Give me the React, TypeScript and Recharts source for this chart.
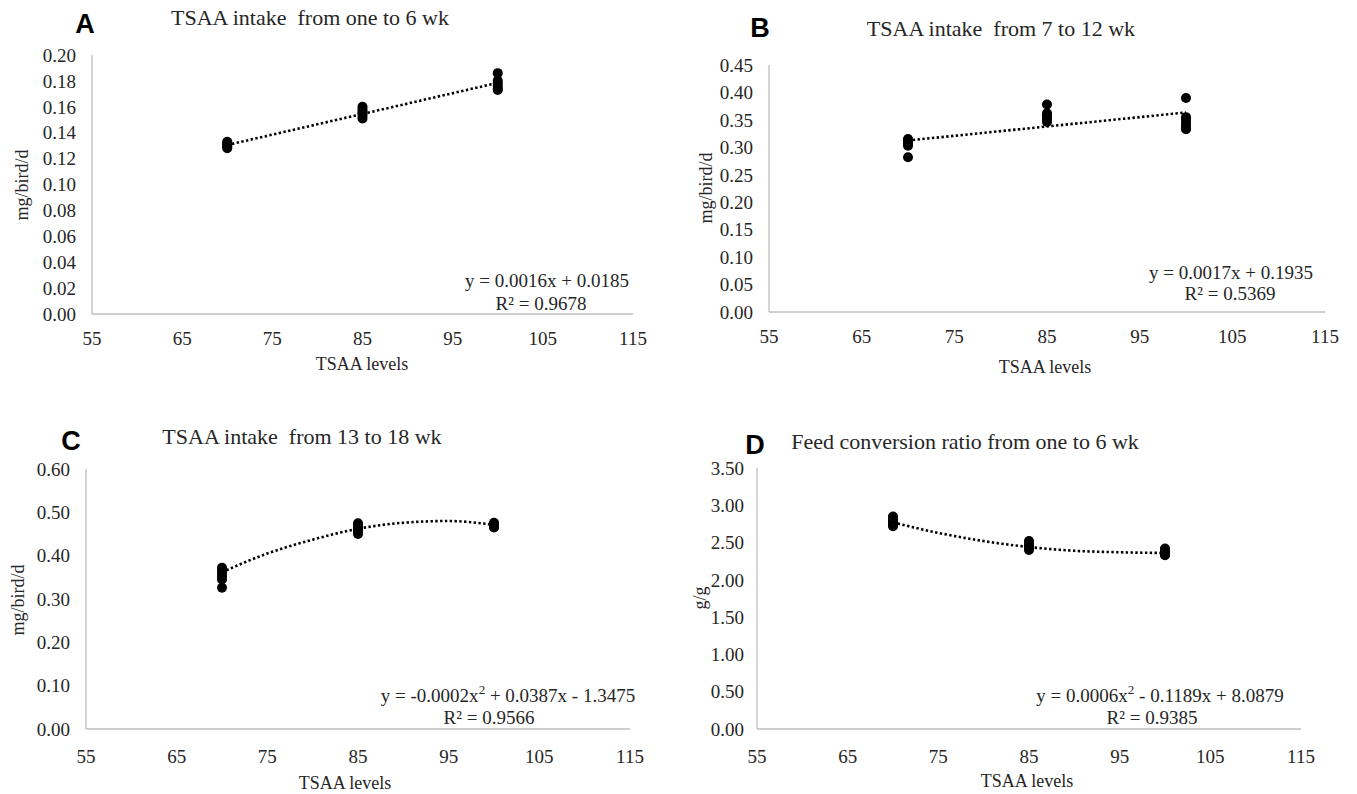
import type { CSSProperties, ReactNode } from 'react'
import { ComposedChart, Line, Scatter, XAxis, YAxis } from 'recharts'

// TSAA levels (% of requirement) and the six replicate values read per level
const levels = [70, 85, 100]
const xTicks = [55, 65, 75, 85, 95, 105, 115]

const intake1to6 = [
  [0.133, 0.132, 0.131, 0.13, 0.129, 0.128],
  [0.16, 0.158, 0.156, 0.155, 0.153, 0.151],
  [0.186, 0.18, 0.178, 0.176, 0.174, 0.173],
]
const intake7to12 = [
  [0.315, 0.312, 0.309, 0.306, 0.303, 0.282],
  [0.378, 0.362, 0.358, 0.354, 0.35, 0.346],
  [0.39, 0.355, 0.35, 0.344, 0.338, 0.333],
]
const intake13to18 = [
  [0.372, 0.365, 0.358, 0.352, 0.345, 0.326],
  [0.475, 0.47, 0.465, 0.46, 0.455, 0.45],
  [0.476, 0.473, 0.47, 0.468, 0.466, 0.465],
]
const fcr1to6 = [
  [2.85, 2.82, 2.79, 2.77, 2.74, 2.72],
  [2.52, 2.49, 2.46, 2.44, 2.42, 2.4],
  [2.42, 2.4, 2.38, 2.36, 2.34, 2.33],
]

// trendlines
const linearX = [70, 100]
const trendA = [0.1305, 0.1785]
const trendB = [0.3125, 0.3635]
const curveX = [70, 75, 80, 85, 90, 95, 100]
const trendC = [0.362, 0.405, 0.437, 0.462, 0.476, 0.48, 0.471]
const trendD = [2.77, 2.63, 2.52, 2.44, 2.39, 2.37, 2.36]

const ticksA = [0, 0.02, 0.04, 0.06, 0.08, 0.1, 0.12, 0.14, 0.16, 0.18, 0.2]
const ticksB = [0, 0.05, 0.1, 0.15, 0.2, 0.25, 0.3, 0.35, 0.4, 0.45]
const ticksC = [0, 0.1, 0.2, 0.3, 0.4, 0.5, 0.6]
const ticksD = [0, 0.5, 1, 1.5, 2, 2.5, 3, 3.5]

const SERIF = '"Liberation Serif", "Times New Roman", serif'
const SANS = '"Liberation Sans", Arial, sans-serif'
const TEXT = '#262626'

// tick text kept coming out sans, so force the font on every svg text
const css = `.chart-box svg text, .chart-box svg tspan { font-family: ${SERIF} !important; font-size: 19px !important; fill: ${TEXT}; }`

function toPoints(groups: number[][]) {
  return groups.flatMap((vals, i) => vals.map((y) => ({ x: levels[i], y })))
}

function toLine(xs: number[], ys: number[]) {
  return xs.map((x, i) => ({ x, y: ys[i] }))
}

const Marker = (p: any) => <circle cx={p.cx} cy={p.cy} r={5} fill="#000" />

function ScatterPanel({
  plot,
  yTicks,
  groups,
  trend,
  curved,
  xTickGap,
  yTickGap = 16,
}: {
  plot: { x0: number; x1: number; y0: number; y1: number }
  yTicks: number[]
  groups: number[][]
  trend: { x: number; y: number }[]
  curved: boolean
  xTickGap: number
  yTickGap?: number
}) {
  const yAxisW = 90
  const xAxisH = 60
  const box: CSSProperties = {
    position: 'absolute',
    left: plot.x0 - yAxisW,
    top: plot.y0 - 20,
    fontFamily: SERIF,
  }
  const tick = { fill: TEXT, fontSize: 19, fontFamily: SERIF }
  return (
    <div className="chart-box" style={box}>
      <ComposedChart
        width={plot.x1 - plot.x0 + yAxisW + 20}
        height={plot.y1 - plot.y0 + 20 + xAxisH}
        margin={{ top: 20, right: 20, left: 0, bottom: 0 }}
      >
        <XAxis
          type="number"
          dataKey="x"
          domain={[55, 115]}
          ticks={xTicks}
          interval={0}
          allowDataOverflow
          height={xAxisH}
          tickLine={false}
          tickSize={0}
          tickMargin={xTickGap}
          axisLine={{ stroke: '#bfbfbf', strokeWidth: 1.3 }}
          tick={tick}
        />
        <YAxis
          type="number"
          dataKey="y"
          domain={[yTicks[0], yTicks[yTicks.length - 1]]}
          ticks={yTicks}
          interval={0}
          width={yAxisW}
          tickLine={false}
          tickSize={0}
          tickMargin={yTickGap}
          axisLine={{ stroke: '#bfbfbf', strokeWidth: 1.3 }}
          tick={tick}
          tickFormatter={(v: number) => v.toFixed(2)}
        />
        <Line
          data={trend}
          dataKey="y"
          type={curved ? 'monotone' : 'linear'}
          stroke="#000"
          strokeWidth={2.6}
          strokeDasharray="2.4 2.4"
          dot={false}
          activeDot={false}
          isAnimationActive={false}
        />
        <Scatter
          data={toPoints(groups)}
          dataKey="y"
          fill="#000"
          shape={Marker}
          isAnimationActive={false}
        />
      </ComposedChart>
    </div>
  )
}

function Txt({
  x,
  y,
  size = 19,
  family = SERIF,
  bold = false,
  rotate = false,
  children,
}: {
  x: number
  y: number
  size?: number
  family?: string
  bold?: boolean
  rotate?: boolean
  children: ReactNode
}) {
  return (
    <div
      style={{
        position: 'absolute',
        left: x,
        top: y,
        transform: `translate(-50%, -50%)${rotate ? ' rotate(-90deg)' : ''}`,
        whiteSpace: 'pre',
        fontFamily: family,
        fontSize: size,
        fontWeight: bold ? 700 : 400,
        color: bold ? '#000' : TEXT,
        lineHeight: 1,
      }}
    >
      {children}
    </div>
  )
}

const sup: CSSProperties = { fontSize: 13, verticalAlign: 'super', lineHeight: 0 }

export default function App() {
  return (
    <div
      style={{
        position: 'absolute',
        left: 0,
        top: 0,
        width: 1357,
        height: 794,
        background: '#fff',
        overflow: 'hidden',
      }}
    >
      <style>{css}</style>
      <ScatterPanel
        plot={{ x0: 92, x1: 633, y0: 55, y1: 314 }}
        yTicks={ticksA}
        groups={intake1to6}
        trend={toLine(linearX, trendA)}
        curved={false}
        xTickGap={18}
      />
      <ScatterPanel
        plot={{ x0: 769, x1: 1325, y0: 65, y1: 312 }}
        yTicks={ticksB}
        groups={intake7to12}
        trend={toLine(linearX, trendB)}
        curved={false}
        xTickGap={18}
      />
      <ScatterPanel
        plot={{ x0: 86, x1: 630, y0: 469, y1: 729 }}
        yTicks={ticksC}
        groups={intake13to18}
        trend={toLine(curveX, trendC)}
        curved
        xTickGap={21}
      />
      <ScatterPanel
        plot={{ x0: 757, x1: 1301, y0: 468, y1: 729 }}
        yTicks={ticksD}
        groups={fcr1to6}
        trend={toLine(curveX, trendD)}
        curved
        xTickGap={21}
        yTickGap={13}
      />

      {/* panel letters */}
      <Txt x={85} y={24} size={27} family={SANS} bold>A</Txt>
      <Txt x={760} y={28} size={27} family={SANS} bold>B</Txt>
      <Txt x={71} y={441} size={27} family={SANS} bold>C</Txt>
      <Txt x={755} y={445} size={27} family={SANS} bold>D</Txt>

      {/* titles */}
      <Txt x={310} y={18} size={22}>TSAA intake  from one to 6 wk</Txt>
      <Txt x={1001} y={29} size={22}>TSAA intake  from 7 to 12 wk</Txt>
      <Txt x={302} y={437} size={22}>TSAA intake  from 13 to 18 wk</Txt>
      <Txt x={965} y={442} size={22}>Feed conversion ratio from one to 6 wk</Txt>

      {/* axis titles */}
      <Txt x={362} y={364} size={18}>TSAA levels</Txt>
      <Txt x={1045} y={367} size={18}>TSAA levels</Txt>
      <Txt x={345} y={783} size={18}>TSAA levels</Txt>
      <Txt x={1027} y={781} size={18}>TSAA levels</Txt>
      <Txt x={22} y={185} size={18} rotate>mg/bird/d</Txt>
      <Txt x={706} y={188} size={18} rotate>mg/bird/d</Txt>
      <Txt x={18} y={600} size={18} rotate>mg/bird/d</Txt>
      <Txt x={700} y={598} size={18} rotate>g/g</Txt>

      {/* regression equations */}
      <Txt x={547} y={280}>y = 0.0016x + 0.0185</Txt>
      <Txt x={541} y={303}>R² = 0.9678</Txt>
      <Txt x={1231} y={272}>y = 0.0017x + 0.1935</Txt>
      <Txt x={1230} y={293}>R² = 0.5369</Txt>
      <Txt x={508} y={695}>
        y = -0.0002x<span style={sup}>2</span> + 0.0387x - 1.3475
      </Txt>
      <Txt x={489} y={717}>R² = 0.9566</Txt>
      <Txt x={1160} y={695}>
        y = 0.0006x<span style={sup}>2</span> - 0.1189x + 8.0879
      </Txt>
      <Txt x={1152} y={717}>R² = 0.9385</Txt>
    </div>
  )
}
